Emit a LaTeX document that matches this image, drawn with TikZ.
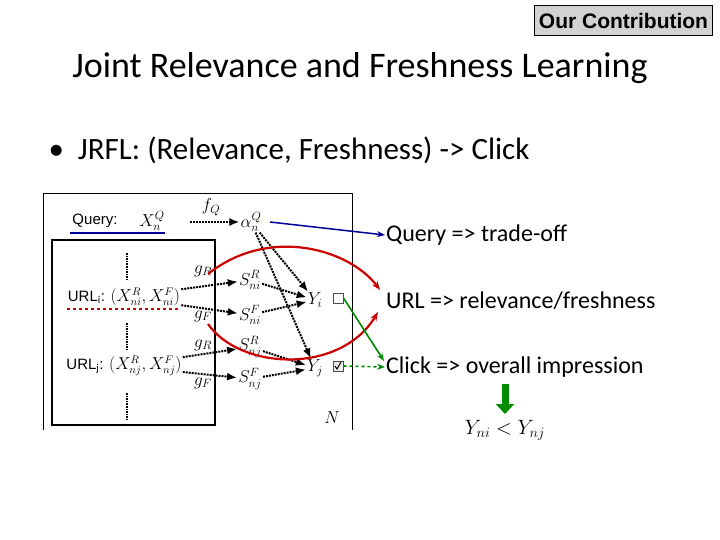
\documentclass[tikz,border=0pt]{standalone}
\usepackage{fontspec}
\setmainfont{Carlito}
\newfontfamily\arialf{Liberation Sans}
\usetikzlibrary{arrows.meta,calc}
\begin{document}
\begin{tikzpicture}[x=1pt,y=-1pt,
  dot/.style={densely dotted,line width=2pt,-{Latex[length=10pt,width=8pt]}},
  lab/.style={inner sep=1pt,font=\arialf\fontsize{15}{15}\selectfont},
  mth/.style={inner sep=1pt,font=\fontsize{18}{18}\selectfont},
  red arc/.style={red!80!black,line width=2.2pt,-{Stealth[length=9pt]}},
  grn/.style={green!55!black,line width=1.6pt,-{Stealth[length=8pt]}},
  big/.style={font=\fontsize{36}{40}\selectfont},
  mid/.style={font=\fontsize{31}{34}\selectfont},
  rt/.style={anchor=west,inner sep=1pt,font=\fontsize{24}{26}\selectfont}]
\useasboundingbox (0,0) rectangle (720,540);
\node[draw,fill=gray!35,font=\arialf\bfseries\fontsize{21}{22}\selectfont,minimum width=178pt,minimum height=30pt] (oc) at (623.5,20.5) {Our Contribution};
\node[big] (title) at (360,68) {Joint Relevance and Freshness Learning};
\node[mid,anchor=west] (bullet) at (45,150) {\textbullet\ \ JRFL: (Relevance, Freshness) -> Click};
% boxes
\draw[line width=0.8pt] (43,430) -- (43,193) -- (352,193) -- (352,430);
\draw[line width=1.2pt] (52,240) rectangle (215,425);
% query
\node[lab] (q) at (95,221) {Query:};
\node[mth] (xq) at (152,221) {$X_n^Q$};
\draw[blue!60!black,line width=1.5pt] (70,233) -- (165,233);
\node[mth] (fq) at (211,207) {$f_Q$};
\node[mth] (al) at (251,222) {$\alpha_n^Q$};
\draw[dot] (190,222) -- (al.west);
% URLs
\node[lab] (ui) at (124,297) {URL$_\mathrm{i}$: \fontsize{16}{16}\selectfont$(X_{ni}^R,X_{ni}^F)$};
\draw[red!80!black,line width=2pt,dashed] (67,309) -- (180,309);
\node[lab] (uj) at (124,366) {URL$_\mathrm{j}$: \fontsize{16}{16}\selectfont$(X_{nj}^R,X_{nj}^F)$};
\node[mth] (gr1) at (203,271) {$g_R$};
\node[mth] (gf1) at (203,316) {$g_F$};
\node[mth] (gr2) at (203,345) {$g_R$};
\node[mth] (gf2) at (203,383) {$g_F$};
\node[mth] (sri) at (250,280) {$S_{ni}^R$};
\node[mth] (sfi) at (250,315) {$S_{ni}^F$};
\node[mth] (srj) at (250,347) {$S_{nj}^R$};
\node[mth] (sfj) at (250,379) {$S_{nj}^F$};
\node[mth] (yi) at (315,300) {$Y_i$};
\node[mth] (yj) at (315,368) {$Y_j$};
\node[draw,gray!60!black,fill=white,minimum size=10pt,inner sep=0pt,line width=1pt] (ci) at (338,298) {};
\node[draw,gray!60!black,fill=gray!15,minimum size=10pt,inner sep=0pt,line width=1pt] (cj) at (338,366) {};
\draw[black,line width=1pt] ($(cj)+(-3,0)$) -- ($(cj)+(-1,3)$) -- ($(cj)+(3,-4)$);
\node[mth] (n) at (332,418) {$N$};
\foreach \a/\b in {ui/sri,ui/sfi,uj/srj,uj/sfj,sri/yi,sfi/yi,srj/yj,sfj/yj,al/yi,al/yj}
  \draw[dot] (\a) -- (\b);
\foreach \y in {253,323,393} \draw[densely dotted,line width=1.6pt] (127,\y) -- (127,\y+27);
% right texts
\node[rt] (t1) at (385,235) {Query => trade-off};
\node[rt] (t2) at (385,301) {URL => relevance/freshness};
\node[rt] (t3) at (385,367) {Click => overall impression};
\draw[blue!60!black,line width=1.5pt,-{Stealth[length=8pt]}] (270,222) -- (t1.west);
\draw[red arc] (208,274) .. controls (270,225) and (350,250) .. (380,290);
\draw[red arc] (208,324) .. controls (240,370) and (340,375) .. (378,312);
\draw[grn] (ci.east) -- (384,361);
\draw[grn,dashed] (cj.east) -- (t3.west);
\node[font=\fontsize{22}{22}\selectfont] (ineq) at (505,430) {$Y_{ni} < Y_{nj}$};
\draw[green!55!black,line width=7pt,-{Triangle[length=10pt,width=18pt]}] (505,384) -- (505,414);
\end{tikzpicture}
\end{document}
